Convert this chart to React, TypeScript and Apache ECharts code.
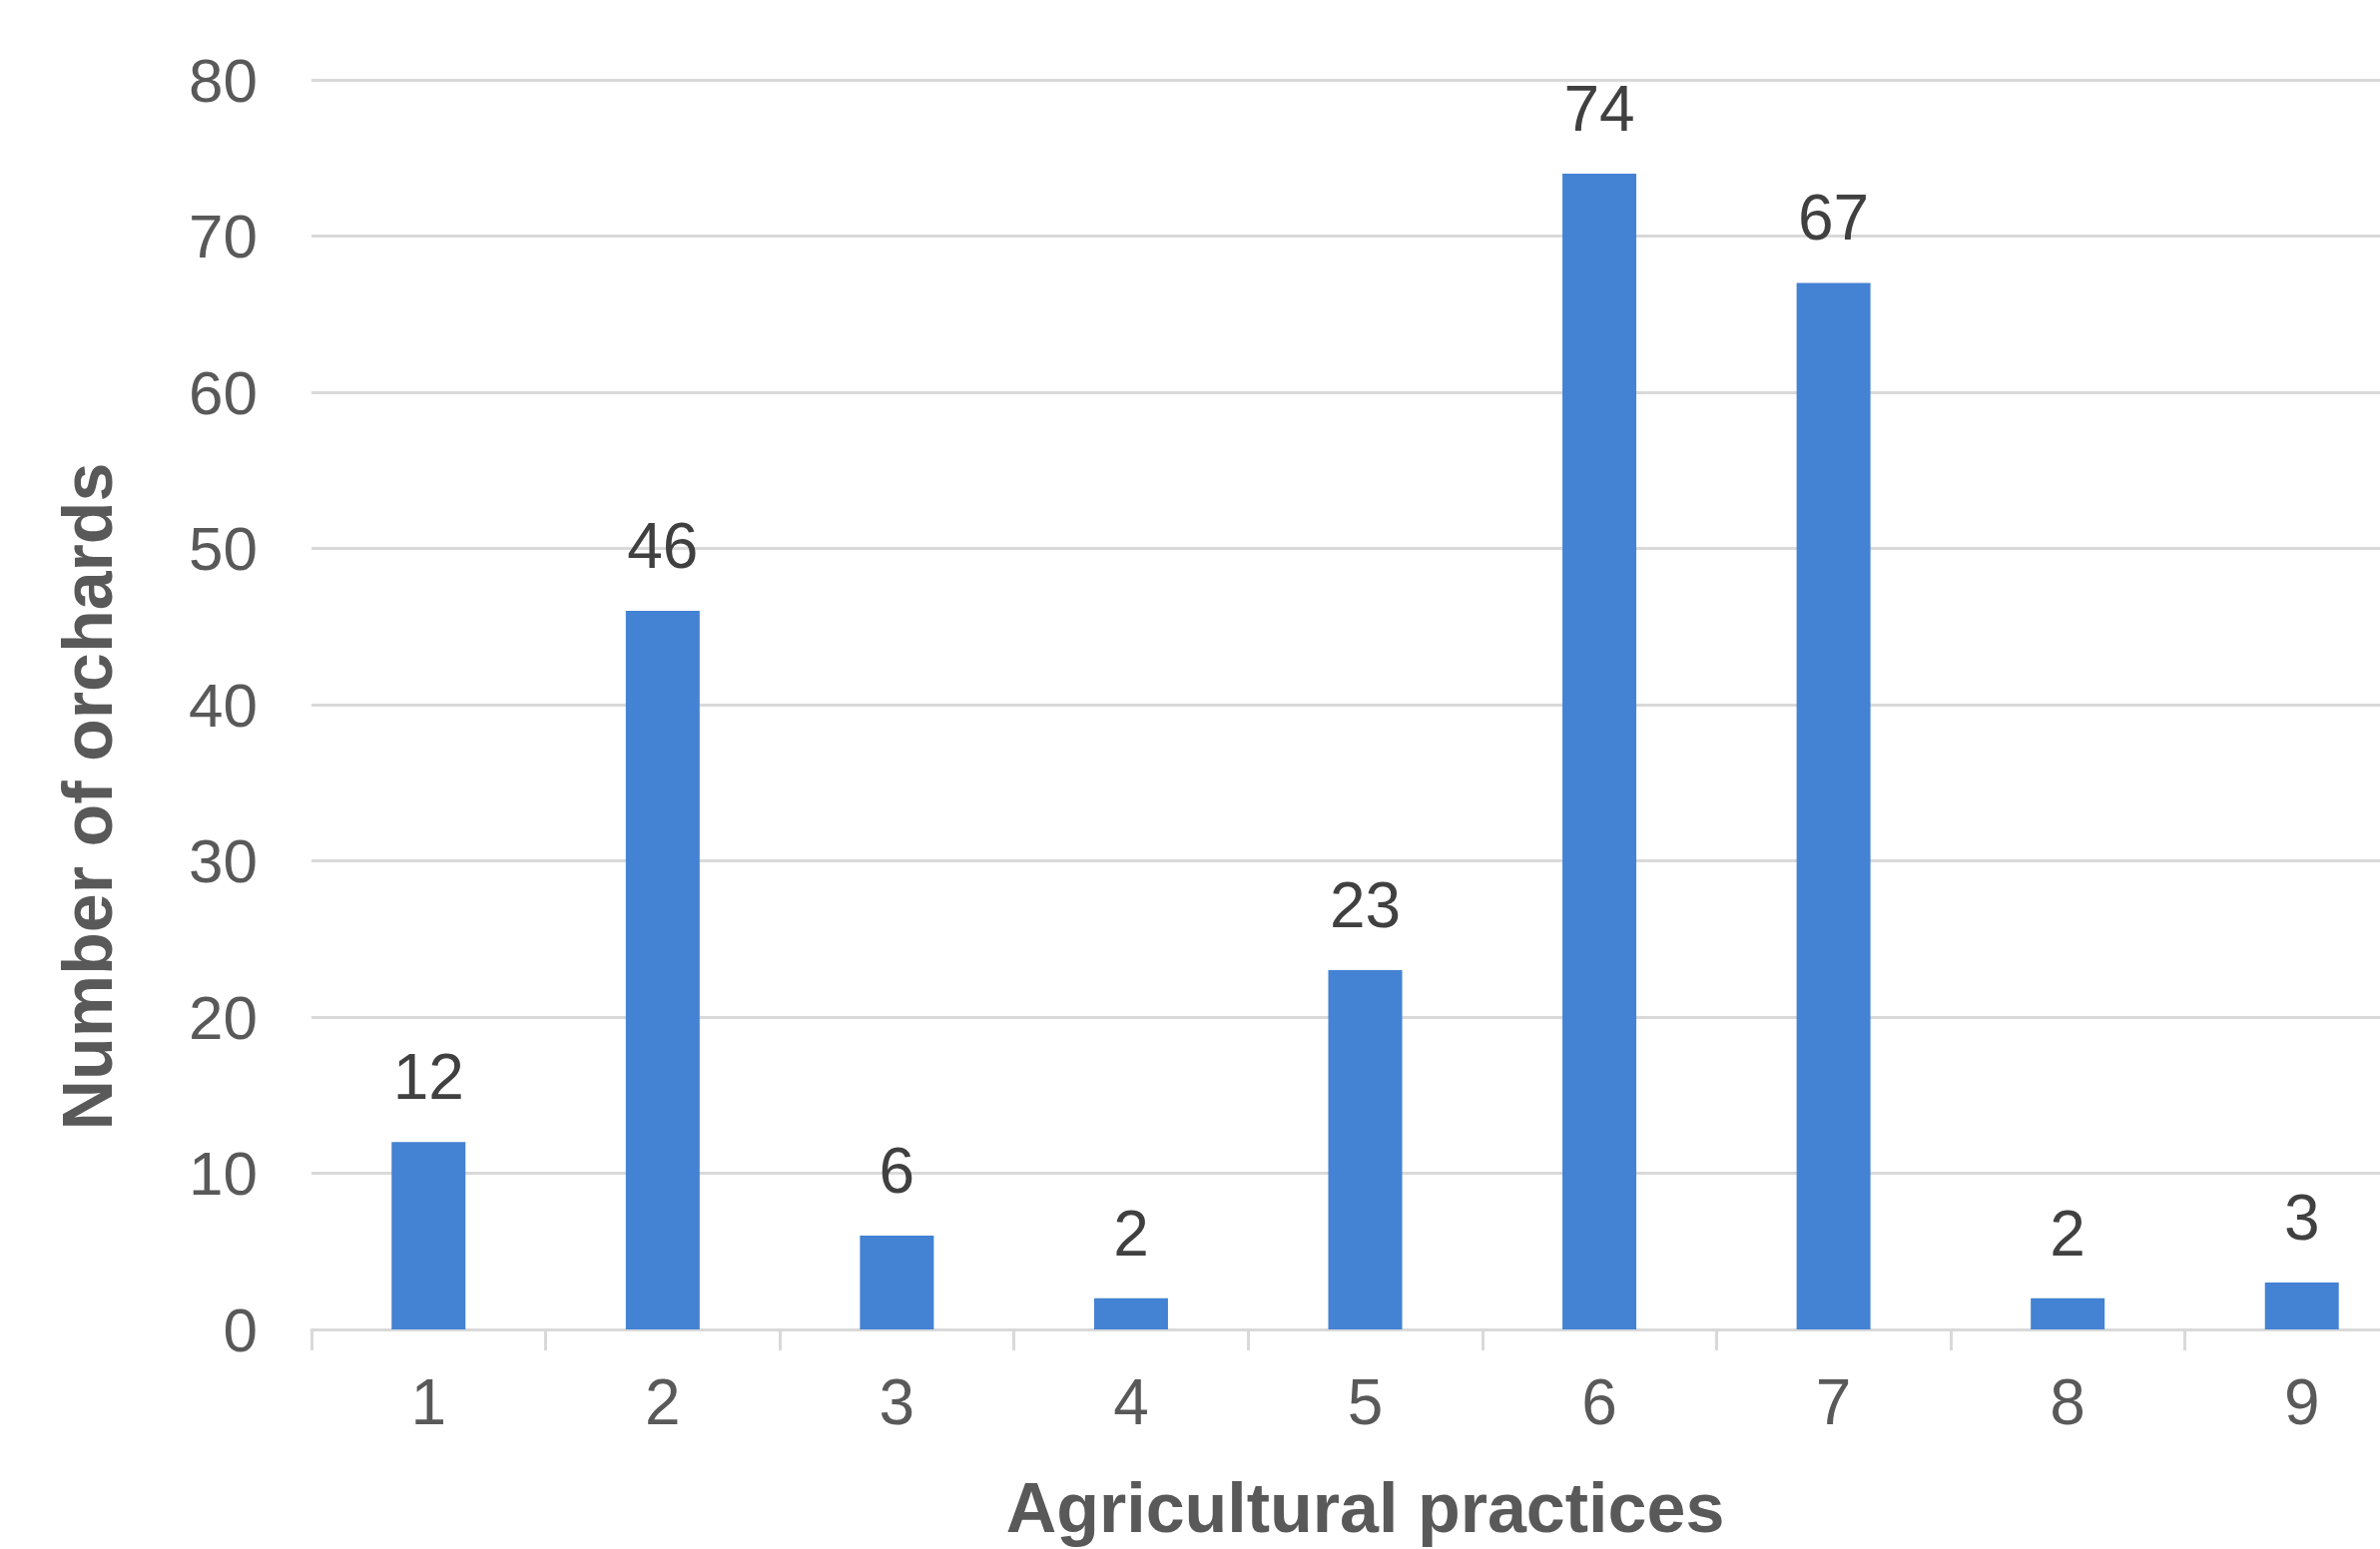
import React, { useEffect, useRef } from "react";
import * as echarts from "echarts";

const categories = ["1", "2", "3", "4", "5", "6", "7", "8", "9"];
const orchardCounts = [12, 46, 6, 2, 23, 74, 67, 2, 3];
const yTicks = { min: 0, max: 80, interval: 10 };
const xTitle = "Agricultural practices";
const yTitle = "Number of orchards";

const FONT = "'Liberation Sans', Arial, sans-serif";

export default function App() {
  const ref = useRef<HTMLDivElement>(null);

  useEffect(() => {
    if (!ref.current) return;
    const chart = echarts.init(ref.current, null, { renderer: "svg" });
    chart.setOption({
      animation: false,
      backgroundColor: "#ffffff",
      grid: {
        left: 312,
        top: 80,
        width: 2111,
        height: 1252,
        containLabel: false,
        outerBoundsMode: "none",
      },
      graphic: [
        {
          type: "text",
          x: 88,
          y: 798,
          rotation: Math.PI / 2,
          style: {
            text: yTitle,
            fontFamily: FONT,
            fontSize: 70,
            fontWeight: "bold",
            fill: "#595959",
            align: "center",
            verticalAlign: "middle",
          },
        },
      ],
      xAxis: {
        type: "category",
        data: categories,
        name: xTitle,
        nameLocation: "middle",
        nameGap: 144,
        nameTextStyle: { fontFamily: FONT, fontSize: 70, fontWeight: "bold", color: "#595959" },
        axisLine: { show: true, lineStyle: { color: "#d9d9d9", width: 3 } },
        axisTick: { show: true, length: 21, lineStyle: { color: "#d9d9d9", width: 3 } },
        axisLabel: { fontFamily: FONT, fontSize: 64, color: "#595959", margin: 41 },
      },
      yAxis: {
        type: "value",
        min: yTicks.min,
        max: yTicks.max,
        interval: yTicks.interval,
        axisLine: { show: false },
        axisTick: { show: false },
        axisLabel: { fontFamily: FONT, fontSize: 62, color: "#595959", margin: 54 },
        splitLine: { show: true, lineStyle: { color: "#d9d9d9", width: 3 } },
      },
      series: [
        {
          type: "bar",
          data: orchardCounts,
          barWidth: 74,
          itemStyle: { color: "#4482D3" },
          label: {
            show: true,
            position: "top",
            distance: 33,
            fontFamily: FONT,
            fontSize: 64,
            color: "#404040",
          },
        },
      ],
    });
    return () => chart.dispose();
  }, []);

  return (
    <div
      ref={ref}
      style={{ position: "absolute", left: 0, top: 0, width: 2384, height: 1552, overflow: "hidden" }}
    />
  );
}
